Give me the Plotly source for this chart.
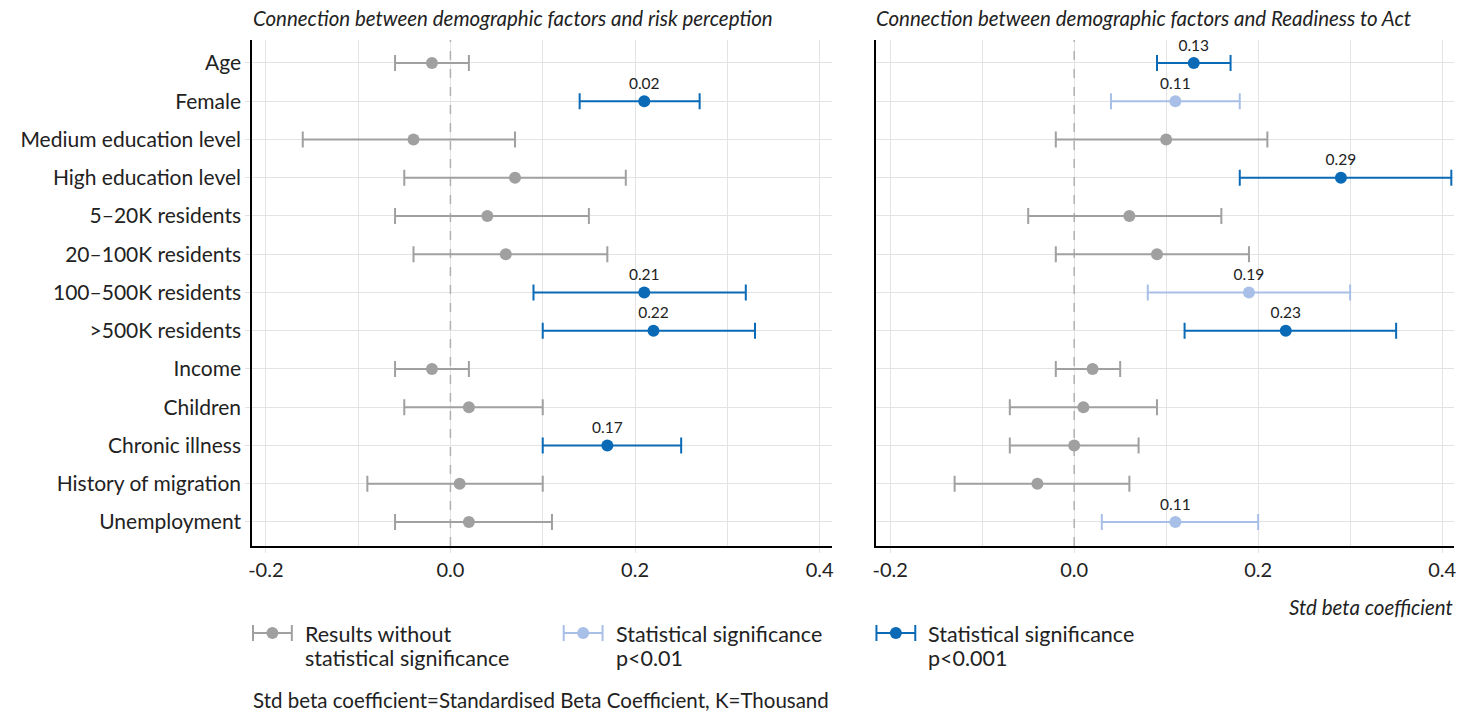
import plotly.graph_objects as go

categories = ["Age", "Female", "Medium education level", "High education level",
              "5\u201320K residents", "20\u2013100K residents", "100\u2013500K residents",
              ">500K residents", "Income", "Children", "Chronic illness",
              "History of migration", "Unemployment"]

# Left panel: risk perception
risk_beta = [-0.02, 0.21, -0.04, 0.07, 0.04, 0.06, 0.21, 0.22, -0.02, 0.02, 0.17, 0.01, 0.02]
risk_low = [-0.06, 0.14, -0.16, -0.05, -0.06, -0.04, 0.09, 0.10, -0.06, -0.05, 0.10, -0.09, -0.06]
risk_high = [0.02, 0.27, 0.07, 0.19, 0.15, 0.17, 0.32, 0.33, 0.02, 0.10, 0.25, 0.10, 0.11]
risk_sig = ["ns", "p001", "ns", "ns", "ns", "ns", "p001", "p001", "ns", "ns", "p001", "ns", "ns"]
risk_label = ["", "0.02", "", "", "", "", "0.21", "0.22", "", "", "0.17", "", ""]

# Right panel: readiness to act
act_beta = [0.13, 0.11, 0.10, 0.29, 0.06, 0.09, 0.19, 0.23, 0.02, 0.01, 0.00, -0.04, 0.11]
act_low = [0.09, 0.04, -0.02, 0.18, -0.05, -0.02, 0.08, 0.12, -0.02, -0.07, -0.07, -0.13, 0.03]
act_high = [0.17, 0.18, 0.21, 0.41, 0.16, 0.19, 0.30, 0.35, 0.05, 0.09, 0.07, 0.06, 0.20]
act_sig = ["p001", "p01", "ns", "p001", "ns", "ns", "p01", "p001", "ns", "ns", "ns", "ns", "p01"]
act_label = ["0.13", "0.11", "", "0.29", "", "", "0.19", "0.23", "", "", "", "", "0.11"]

x_ticks = [-0.2, 0.0, 0.2, 0.4]
titles = ["Connection between demographic factors and risk perception",
          "Connection between demographic factors and Readiness to Act"]
legend_labels = [["Results without", "statistical significance"],
                 ["Statistical significance", "p<0.01"],
                 ["Statistical significance", "p<0.001"]]
x_title = "Std beta coefficient"
footnote = "Std beta coefficient=Standardised Beta Coefficient, K=Thousand"

COLORS = {"ns": "#a0a0a0", "p01": "#a8c0e8", "p001": "#0a6ab6"}
FONT = "Lato, 'Open Sans', sans-serif"
TXT = "#222222"
W, H = 1475, 711
Y_RANGE = [12.63, -0.6]

fig = go.Figure()

def add_panel(beta, low, high, sig, label, xa, ya):
    for key in ["ns", "p01", "p001"]:
        idx = [i for i, s in enumerate(sig) if s == key]
        if not idx:
            continue
        fig.add_trace(go.Scatter(
            x=[beta[i] for i in idx],
            y=[categories[i] for i in idx],
            mode="markers+text",
            text=[label[i] for i in idx],
            textposition="top center",
            textfont=dict(size=15.5, color=TXT, family=FONT),
            marker=dict(size=12, color=COLORS[key]),
            error_x=dict(type="data", symmetric=False,
                         array=[high[i] - beta[i] for i in idx],
                         arrayminus=[beta[i] - low[i] for i in idx],
                         color=COLORS[key], thickness=2, width=8),
            xaxis=xa, yaxis=ya, showlegend=False, cliponaxis=False,
        ))

add_panel(risk_beta, risk_low, risk_high, risk_sig, risk_label, "x", "y")
add_panel(act_beta, act_low, act_high, act_sig, act_label, "x2", "y2")

ydom = [1 - 546 / H, 1 - 40 / H]
xdom1 = [249 / W, 831 / W]
xdom2 = [876 / W, 1456 / W]

common_x = dict(range=[-0.215, 0.413], tickvals=x_ticks, ticktext=["-0.2", "0.0", "0.2", "0.4"],
                showgrid=True, gridcolor="#e3e3e3", gridwidth=1,
                minor=dict(dtick=0.1, tick0=0, showgrid=True, gridcolor="#e3e3e3", gridwidth=1),
                showline=True, linecolor="#000000", linewidth=1.5,
                ticks="outside", ticklen=5, tickcolor="#e3e3e3",
                zeroline=False, tickfont=dict(size=20, color=TXT, family=FONT),
                fixedrange=True)

common_y = dict(domain=ydom, categoryorder="array", categoryarray=categories,
                autorange=False, range=Y_RANGE,
                showgrid=True, gridcolor="#e3e3e3", gridwidth=1,
                showline=True, linecolor="#000000", linewidth=1.5, zeroline=False,
                fixedrange=True)

fig.update_layout(
    width=W, height=H,
    margin=dict(l=0, r=0, t=0, b=0),
    paper_bgcolor="white", plot_bgcolor="white",
    font=dict(family=FONT, color=TXT),
    xaxis=dict(domain=xdom1, anchor="y", **common_x),
    xaxis2=dict(domain=xdom2, anchor="y2", **common_x),
    yaxis=dict(anchor="x", ticks="outside", ticklen=5, tickcolor="#e3e3e3",
               tickfont=dict(size=21, color=TXT, family=FONT), **common_y),
    yaxis2=dict(anchor="x2", ticks="", showticklabels=False, **common_y),
)

# zero reference lines
for xr, yr in [("x", "y"), ("x2", "y2")]:
    fig.add_shape(type="line", xref=xr, yref=yr, x0=0, x1=0, y0=Y_RANGE[0], y1=Y_RANGE[1],
                  line=dict(color="#b0b0b0", width=1.5, dash="dash"), layer="between")

# panel titles
for title, x0 in zip(titles, [248, 874]):
    fig.add_annotation(text="<i>" + title + "</i>", xref="paper", yref="paper",
                       x=x0 / W, y=1 - 18 / H, xanchor="left", yanchor="middle",
                       showarrow=False, font=dict(size=20.5, color=TXT, family=FONT))

# x axis title
fig.add_annotation(text="<i>" + x_title + "</i>", xref="paper", yref="paper",
                   x=1457 / W, y=1 - 607 / H, xanchor="right", yanchor="middle",
                   showarrow=False, font=dict(size=20.5, color=TXT, family=FONT))

# legend
for (key, lines, x0) in zip(["ns", "p01", "p001"], legend_labels, [250, 562, 876]):
    c = COLORS[key]
    yc = 1 - 633 / H
    fig.add_shape(type="line", xref="paper", yref="paper", x0=x0 / W, x1=(x0 + 39) / W,
                  y0=yc, y1=yc, line=dict(color=c, width=2), layer="above")
    for xe in [x0, x0 + 39]:
        fig.add_shape(type="line", xref="paper", yref="paper", x0=xe / W, x1=xe / W,
                      y0=yc - 8 / H, y1=yc + 8 / H, line=dict(color=c, width=2), layer="above")
    fig.add_shape(type="circle", xref="paper", yref="paper",
                  x0=(x0 + 19.5 - 6) / W, x1=(x0 + 19.5 + 6) / W,
                  y0=yc - 6 / H, y1=yc + 6 / H, fillcolor=c, line=dict(color=c, width=0),
                  layer="above")
    for line_txt, yy in zip(lines, [634, 658]):
        fig.add_annotation(text=line_txt, xref="paper", yref="paper", x=(x0 + 50) / W,
                           y=1 - yy / H, xanchor="left", yanchor="middle", align="left",
                           showarrow=False, font=dict(size=21.5, color=TXT, family=FONT))

fig.add_annotation(text=footnote, xref="paper", yref="paper", x=248 / W, y=1 - 700 / H,
                   xanchor="left", yanchor="middle", showarrow=False,
                   font=dict(size=20.5, color=TXT, family=FONT))

fig.write_html("out.html", config={"displayModeBar": False},
               post_script="document.body.style.margin='0';")
